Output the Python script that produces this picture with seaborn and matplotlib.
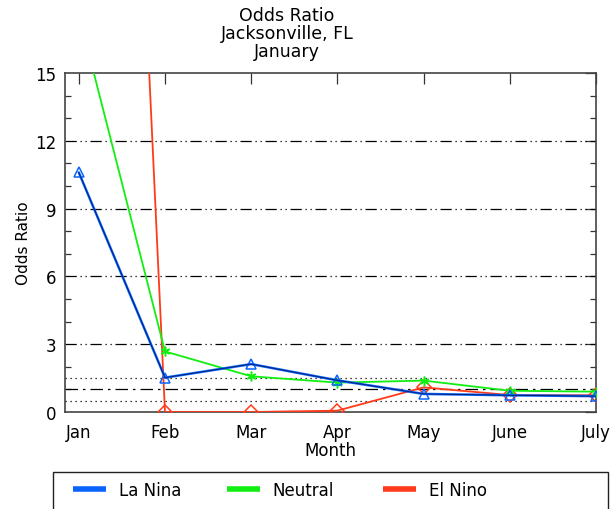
import numpy as np
import pandas as pd
import matplotlib
matplotlib.use("Agg")
import matplotlib.pyplot as plt
from matplotlib.lines import Line2D
from matplotlib.patches import Rectangle
import seaborn as sns

# valeurs
months = ['Jan', 'Feb', 'Mar', 'Apr', 'May', 'June', 'July']
la_nina = [10.6, 1.52, 2.12, 1.4, 0.8, 0.74, 0.7]
neutral = [17.6, 2.68, 1.58, 1.3, 1.39, 0.94, 0.9]
el_nino = [82.0, 0.0, 0.0, 0.06, 1.09, 0.75, 0.74]
series_names = ['La Nina', 'Neutral', 'El Nino']
ref_lines = [1.5, 1.0, 0.5]
y_ticks = [0, 3, 6, 9, 12, 15]

colors = {'La Nina': '#0a63ff', 'Neutral': '#11ee11', 'El Nino': '#ff3a1a'}
markers = {'La Nina': '^', 'Neutral': (6, 2, 0), 'El Nino': 'D'}

x = np.arange(len(months))
df = pd.DataFrame({
    'x': np.tile(x, 3),
    'val': la_nina + neutral + el_nino,
    'serie': np.repeat(series_names, len(months)),
})

sns.set_style('white')
plt.rcParams['font.family'] = ['DejaVu Sans']
plt.rcParams['text.color'] = 'black'
plt.rcParams['axes.labelcolor'] = 'black'
plt.rcParams['xtick.labelcolor'] = 'black'
plt.rcParams['ytick.labelcolor'] = 'black'

fig = plt.figure(figsize=(6.13, 5.10), dpi=100)
ax = fig.add_axes([65 / 613, 1 - 413 / 510, 531 / 613, 339 / 510])

# lignes horizontales de référence
for v in [3, 6, 9, 12]:
    ax.axhline(v, color='black', lw=0.9, ls=(0, (9, 3, 1, 3, 1, 3)), zorder=1)
ax.axhline(ref_lines[1], color='black', lw=0.9, ls=(0, (10, 4, 2, 4)), zorder=1)
ax.axhline(ref_lines[0], color='black', lw=0.9, ls=(0, (1, 3)), zorder=1)
ax.axhline(ref_lines[2], color='black', lw=0.9, ls=(0, (1, 3)), zorder=1)

for name in ['El Nino', 'Neutral', 'La Nina']:
    sub = df[df['serie'] == name]
    sns.lineplot(data=sub, x='x', y='val', ax=ax, color=colors[name],
                 lw=1.8 if name == 'La Nina' else 1.3,
                 marker=markers[name], markersize=7, markerfacecolor='none',
                 markeredgecolor=colors[name], markeredgewidth=1.1,
                 legend=False, zorder=3)
# trait sombre au centre de La Nina
sns.lineplot(x=x, y=la_nina, ax=ax, color='#001a66', lw=0.6, legend=False, zorder=4)

ax.set_xlim(-0.16, 6)
ax.set_ylim(0, 15)
ax.set_xticks(x)
ax.set_xticklabels(months, fontsize=12)
ax.set_yticks(y_ticks)
ax.set_yticklabels([str(t) for t in y_ticks], fontsize=12)
ax.set_yticks(np.arange(0, 16, 1), minor=True)
ax.tick_params(axis='both', which='major', direction='in', length=8, width=0.9,
               top=True, right=True, color='#333333', pad=8)
ax.tick_params(axis='y', which='major', pad=6)
ax.tick_params(axis='y', which='minor', direction='in', length=4, width=0.9,
               right=True, left=True, color='#333333')
ax.set_xlabel('Month', fontsize=12, labelpad=0)
ax.set_ylabel('Odds Ratio', fontsize=11, labelpad=3)
for sp in ax.spines.values():
    sp.set_color('#444444')
    sp.set_linewidth(1.2)

# titre sur trois lignes
fig.text(287 / 613, 1 - 16 / 510, 'Odds Ratio', ha='center', va='center', fontsize=12.5)
fig.text(287 / 613, 1 - 34 / 510, 'Jacksonville, FL', ha='center', va='center', fontsize=12.5)
fig.text(287 / 613, 1 - 52 / 510, 'January', ha='center', va='center', fontsize=12.5)

# légende en bas
fig.patches.append(Rectangle((53 / 613, -0.05), 555 / 613, 0.05 + 37 / 510,
                             transform=fig.transFigure, fill=False,
                             edgecolor='#222222', lw=1.0))
handle_x = [73, 227, 383]
for name, hx in zip(series_names, handle_x):
    h = Line2D([0], [0], color=colors[name], lw=4, solid_capstyle='butt')
    leg = fig.legend([h], [name], loc='center left', frameon=False,
                     bbox_to_anchor=(hx / 613, 1 - 491 / 510), fontsize=12,
                     handlelength=1.95, handletextpad=0.8,
                     borderpad=0, borderaxespad=0)

fig.savefig('out.png', dpi=100)
